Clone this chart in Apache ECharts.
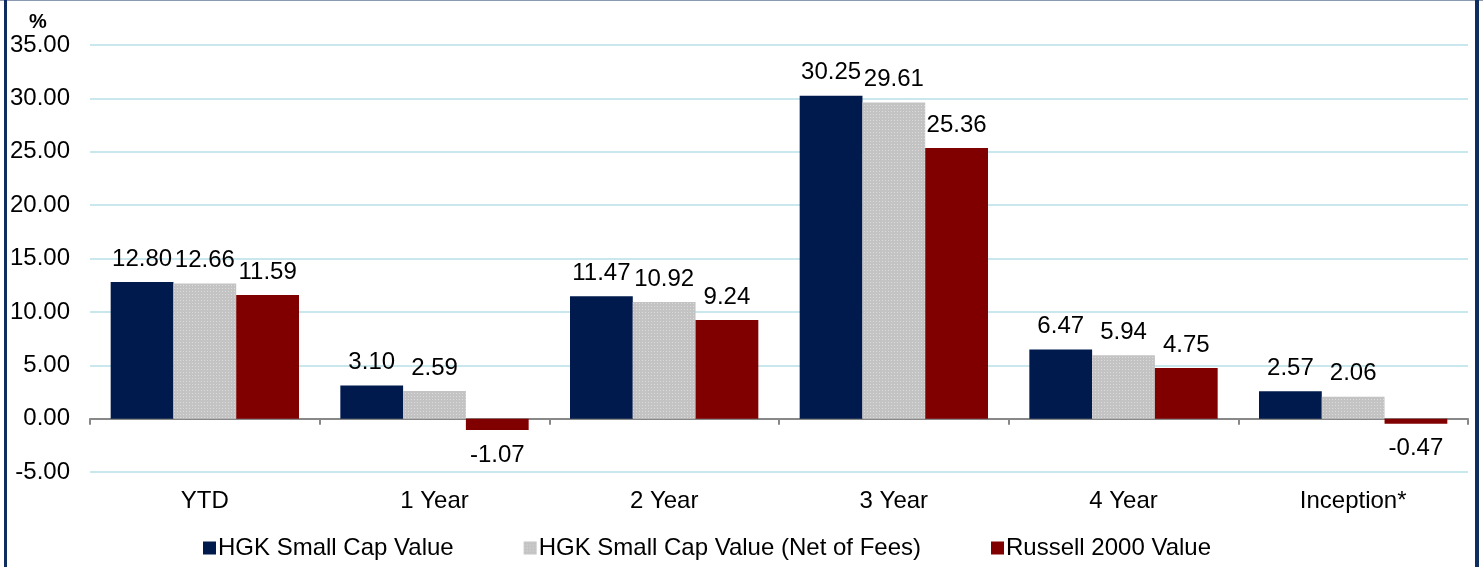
<!DOCTYPE html>
<html>
<head>
<meta charset="utf-8">
<script src="https://cdn.jsdelivr.net/npm/echarts@6/dist/echarts.min.js"></script>
<style>
  html, body { margin: 0; padding: 0; background: #fff; }
  #main { width: 1483px; height: 567px; }
</style>
</head>
<body>
<div id="main"></div>
<script>
// chart data
var categories = ['YTD', '1 Year', '2 Year', '3 Year', '4 Year', 'Inception*'];
var hgkValue = [12.80, 3.10, 11.47, 30.25, 6.47, 2.57];
var hgkNet = [12.66, 2.59, 10.92, 29.61, 5.94, 2.06];
var russell = [11.59, -1.07, 9.24, 25.36, 4.75, -0.47];
var seriesNames = ['HGK Small Cap Value', 'HGK Small Cap Value (Net of Fees)', 'Russell 2000 Value'];

var font = 'Liberation Sans, Arial, sans-serif';
var fs = 24;

// negative values get their label under the bar
function withLabels(arr) {
  return arr.map(function (v) {
    return {
      value: v,
      label: { position: v < 0 ? 'bottom' : 'top', distance: v < 0 ? 13 : 11 }
    };
  });
}

function barSeries(name, data, color, decal) {
  return {
    name: name,
    type: 'bar',
    data: withLabels(data),
    barGap: '0%',
    barCategoryGap: '18%',
    itemStyle: { color: color, decal: decal },
    label: {
      show: true,
      color: '#000',
      fontSize: fs,
      fontFamily: font,
      formatter: function (p) { return p.value.toFixed(2); }
    }
  };
}

var chart = echarts.init(document.getElementById('main'));
chart.setOption({
  backgroundColor: '#fff',
  animation: false,
  aria: { enabled: false, decal: { show: true } },
  title: {
    text: '%',
    left: 24,
    top: 7,
    textStyle: { fontSize: 20, fontWeight: 'bold', fontFamily: font, color: '#000' }
  },
  grid: { left: 90, right: 15, top: 45, bottom: 95, containLabel: false },
  legend: {
    left: 198,
    top: 531,
    itemWidth: 13,
    itemHeight: 13,
    itemGap: 70,
    icon: 'rect',
    textStyle: { fontSize: fs, fontFamily: font, color: '#000', padding: [0, 0, 0, -3] },
    data: seriesNames
  },
  xAxis: {
    type: 'category',
    data: categories,
    axisLine: { onZero: true, lineStyle: { color: '#888', width: 2 } },
    axisTick: { show: true, inside: false, length: 6, lineStyle: { color: '#888', width: 2 } },
    axisLabel: { fontSize: fs, fontFamily: font, color: '#000', margin: 17 },
    splitLine: { show: false }
  },
  yAxis: {
    type: 'value',
    min: -5,
    max: 35,
    interval: 5,
    axisLine: { show: false },
    axisTick: { show: false },
    axisLabel: {
      fontSize: fs, fontFamily: font, color: '#000', margin: 20,
      formatter: function (v) { return v.toFixed(2); }
    },
    splitLine: { lineStyle: { color: '#c8e8ee', width: 2 } }
  },
  graphic: [
    { type: 'rect', shape: { x: 0, y: 0, width: 1483, height: 1 }, style: { fill: '#8a9ab0' } },
    { type: 'rect', shape: { x: 4, y: 0, width: 3, height: 567 }, style: { fill: '#0f2d60' } },
    { type: 'rect', shape: { x: 1475, y: 0, width: 4, height: 567 }, style: { fill: '#0f2d60' } }
  ],
  series: [
    barSeries(seriesNames[0], hgkValue, '#001a4d', { symbol: 'none' }),
    barSeries(seriesNames[1], hgkNet, '#c3c3c3', {
      symbol: 'rect', symbolSize: 1, color: 'rgba(230,230,230,0.7)',
      dashArrayX: [1, 2], dashArrayY: [1, 2], rotation: 0
    }),
    barSeries(seriesNames[2], russell, '#800000', { symbol: 'none' })
  ]
});
</script>
</body>
</html>
